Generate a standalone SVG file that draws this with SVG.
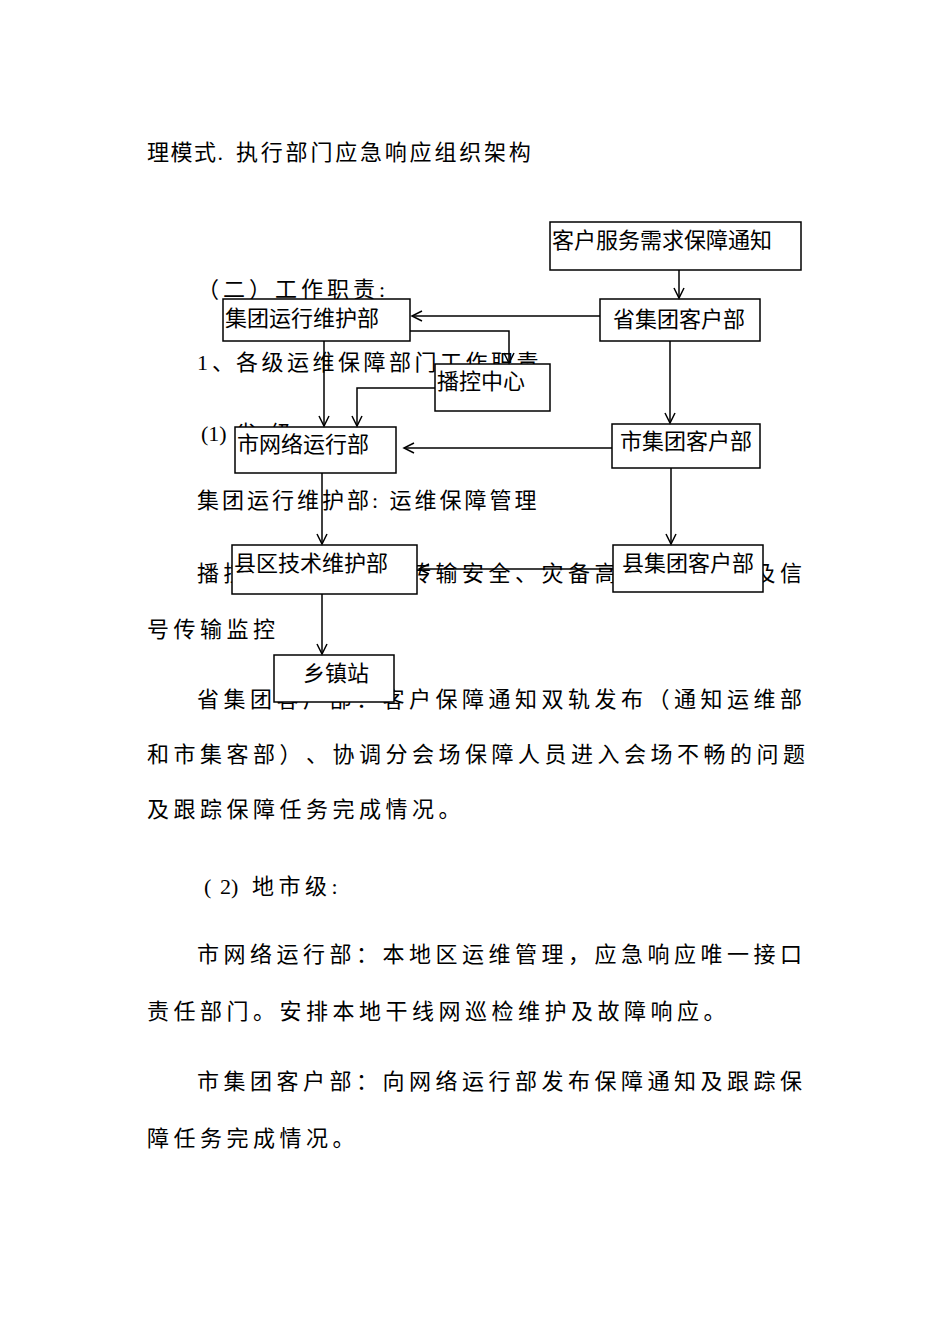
<svg xmlns="http://www.w3.org/2000/svg" width="950" height="1344" viewBox="0 0 950 1344">
<style>
.body{font-family:"Liberation Serif","Noto Sans CJK SC",serif;font-size:22px;fill:#000;letter-spacing:4.5px;text-spacing-trim:space-all}
.lbl{font-family:"Noto Sans CJK SC",sans-serif;font-size:22px;fill:#000}
.box{fill:#fff;stroke:#000;stroke-width:1.5}
.edge{fill:none;stroke:#000;stroke-width:1.5}
</style>
<defs>
<marker id="arr" markerUnits="userSpaceOnUse" markerWidth="14" markerHeight="14" refX="11" refY="6" orient="auto" viewBox="0 0 14 12">
<path d="M1,1 L11,6 L1,11" fill="none" stroke="#000" stroke-width="1.5"/>
</marker>
</defs>
<rect width="950" height="1344" fill="#fff"/>

<g id="body-text">
<text class="body" y="160"><tspan x="147" style="letter-spacing:1.5px">理模式.</tspan><tspan x="236" style="letter-spacing:2.8px">执行部门应急响应组织架构</tspan></text>
<text class="body" x="197" y="297" style="letter-spacing:4px">（二）工作职责:</text>
<text class="body" y="370"><tspan x="197" style="letter-spacing:4px">1、</tspan><tspan x="236" style="letter-spacing:3.5px">各级运维保障部门工作职责</tspan></text>
<text class="body" y="441"><tspan x="201" style="letter-spacing:0">(1)</tspan><tspan x="235">省</tspan><tspan x="270">级</tspan></text>
<text class="body" x="197" y="508" style="letter-spacing:3px">集团运行维护部: 运维保障管理</text>
<text class="body" y="581"><tspan x="197">播控</tspan><tspan x="409">传输安全、灾备高</tspan><tspan x="753.5">及信</tspan></text>
<text class="body" x="147" y="637">号传输监控</text>
<text class="body" x="197" y="707">省集团客户部：客户保障通知双轨发布（通知运维部</text>
<text class="body" x="147" y="762">和市集客部）、协调分会场保障人员进入会场不畅的问题</text>
<text class="body" x="147" y="817">及跟踪保障任务完成情况。</text>
<text class="body" y="894"><tspan x="204" style="letter-spacing:0">(</tspan><tspan x="220" style="letter-spacing:0">2)</tspan><tspan x="252">地市级:</tspan></text>
<text class="body" x="197" y="962">市网络运行部：本地区运维管理，应急响应唯一接口</text>
<text class="body" x="147" y="1019">责任部门。安排本地干线网巡检维护及故障响应。</text>
<text class="body" x="197" y="1089">市集团客户部：向网络运行部发布保障通知及跟踪保</text>
<text class="body" x="147" y="1146">障任务完成情况。</text>
</g>

<g id="n-notice"><rect class="box" x="550" y="222" width="251" height="48"/><text class="lbl" x="552" y="248">客户服务需求保障通知</text></g>
<g id="n-prov-cust"><rect class="box" x="600" y="299" width="160" height="42"/><text class="lbl" x="613" y="327">省集团客户部</text></g>
<g id="n-group-ops"><rect class="box" x="223" y="299" width="187" height="42"/><text class="lbl" x="225" y="326">集团运行维护部</text></g>
<g id="n-broadcast"><rect class="box" x="435" y="364" width="115" height="47"/><text class="lbl" x="437" y="389">播控中心</text></g>
<g id="n-city-net"><rect class="box" x="235" y="427" width="161" height="46"/><text class="lbl" x="237" y="452">市网络运行部</text></g>
<g id="n-city-cust"><rect class="box" x="612" y="424" width="148" height="44"/><text class="lbl" x="620" y="449">市集团客户部</text></g>
<g id="n-county-tech"><rect class="box" x="232" y="545" width="185" height="49"/><text class="lbl" x="234" y="571">县区技术维护部</text></g>
<g id="n-county-cust"><rect class="box" x="613" y="545" width="150" height="47"/><text class="lbl" x="622" y="571">县集团客户部</text></g>
<g id="n-town"><rect class="box" x="274" y="655" width="120" height="47"/><text class="lbl" x="303" y="681">乡镇站</text></g>

<g id="connectors">
<path class="edge" marker-end="url(#arr)" d="M679,270 L679,298"/>
<path class="edge" marker-end="url(#arr)" d="M600,316 L412,316"/>
<path class="edge" marker-end="url(#arr)" d="M410,331 L509,331 L509,363"/>
<path class="edge" marker-end="url(#arr)" d="M324,341 L324,426"/>
<path class="edge" marker-end="url(#arr)" d="M435,388 L357,388 L357,426"/>
<path class="edge" marker-end="url(#arr)" d="M670,341 L670,423"/>
<path class="edge" marker-end="url(#arr)" d="M612,448 L404,448"/>
<path class="edge" marker-end="url(#arr)" d="M322,473 L322,544"/>
<path class="edge" marker-end="url(#arr)" d="M671,468 L671,544"/>
<path class="edge" marker-end="url(#arr)" d="M613,569 L419,569"/>
<path class="edge" marker-end="url(#arr)" d="M322,594 L322,654"/>
</g>
</svg>
